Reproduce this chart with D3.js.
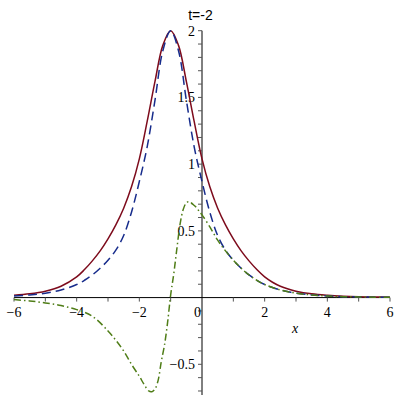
<!DOCTYPE html>
<html><head><meta charset="utf-8">
<script src="https://cdn.jsdelivr.net/npm/d3@7"></script>
<style>html,body{margin:0;padding:0;background:#fff;}svg{display:block;}</style>
</head><body>
<script>
// ---- data ----
const title = "t=-2";
const xs = [-6,-5.5,-5,-4.5,-4,-3.75,-3.5,-3.25,-3,-2.75,-2.5,-2.25,-2,-1.75,-1.5,-1.25,-1,-0.75,-0.5,-0.25,0,0.25,0.5,0.75,1,1.25,1.5,1.75,2,2.25,2.5,2.75,3,3.5,4,4.5,5,5.5,6];
const redY = [0.017,0.028,0.048,0.085,0.155,0.21,0.275,0.35,0.44,0.545,0.67,0.83,1.04,1.32,1.62,1.89,2.00,1.89,1.62,1.32,1.04,0.83,0.67,0.545,0.44,0.35,0.275,0.21,0.155,0.115,0.085,0.064,0.048,0.028,0.017,0.01,0.006,0.004,0.003];
const blueY = [0.012,0.02,0.033,0.057,0.098,0.13,0.17,0.22,0.28,0.355,0.465,0.64,0.87,1.13,1.48,1.85,2.00,1.85,1.48,1.13,0.87,0.64,0.465,0.355,0.28,0.22,0.17,0.13,0.098,0.075,0.057,0.044,0.033,0.02,0.012,0.007,0.005,0.003,0.002];
const greenX = [-6,-5.5,-5,-4.5,-4,-3.5,-3,-2.75,-2.5,-2.25,-2,-1.85,-1.7,-1.6,-1.5,-1.4,-1.3,-1.2,-1.1,-1,-0.9,-0.8,-0.7,-0.6,-0.5,-0.4,-0.3,-0.2,-0.1,0,0.25,0.5,0.75,1,1.25,1.5,1.75,2,2.5,3,3.5,4,4.5,5,5.5,6];
const greenY = [-0.015,-0.025,-0.04,-0.06,-0.09,-0.14,-0.25,-0.32,-0.40,-0.50,-0.59,-0.65,-0.70,-0.705,-0.685,-0.62,-0.48,-0.36,-0.19,0.02,0.18,0.37,0.55,0.66,0.71,0.72,0.70,0.68,0.65,0.62,0.53,0.43,0.35,0.28,0.22,0.17,0.13,0.098,0.057,0.033,0.02,0.012,0.007,0.005,0.003,0.002];
const xMajor = [-6,-4,-2,0,2,4,6];
const xMinor = [-6,-5,-4,-3,-2,-1,1,2,3,4,5,6];
const yMajor = [-0.5,0.5,1,1.5,2];
const yMinorStep = 0.1;

// ---- drawing ----
const W = 400, H = 400;
const svg = d3.select("body").append("svg").attr("width", W).attr("height", H);
const x = d3.scaleLinear().domain([-6, 6]).range([14, 390]);
const y = d3.scaleLinear().domain([-0.73, 2]).range([395, 30.7]);

const g = svg.append("g");

// axes lines
g.append("line").attr("x1", x(-6)).attr("x2", x(6)).attr("y1", y(0)).attr("y2", y(0))
  .attr("stroke", "#000").attr("stroke-width", 1);
g.append("line").attr("x1", x(0)).attr("x2", x(0)).attr("y1", y(2)).attr("y2", y(-0.73))
  .attr("stroke", "#000").attr("stroke-width", 1);

// x ticks (below axis)
g.selectAll(".xt").data(xMinor).enter().append("line")
  .attr("x1", d => x(d)).attr("x2", d => x(d))
  .attr("y1", y(0)).attr("y2", y(0) + 4)
  .attr("stroke", "#555").attr("stroke-width", 1);
// y ticks (left of axis)
const yTicks = d3.range(-7, 21).map(i => i * yMinorStep).filter(v => Math.abs(v) > 1e-9);
g.selectAll(".yt").data(yTicks).enter().append("line")
  .attr("x1", x(0) - 4).attr("x2", x(0))
  .attr("y1", d => y(d)).attr("y2", d => y(d))
  .attr("stroke", "#555").attr("stroke-width", 1);

const fmt = v => (v < 0 ? "\u2212" : "") + Math.abs(v);
// x labels
g.selectAll(".xl").data(xMajor).enter().append("text")
  .attr("x", d => d === 0 ? x(0) - 4.5 : x(d))
  .attr("y", 317)
  .attr("text-anchor", "middle")
  .attr("font-family", "Liberation Serif, Times New Roman, serif")
  .attr("font-size", 14).text(fmt);
// y labels
g.selectAll(".yl").data(yMajor).enter().append("text")
  .attr("x", 195).attr("y", d => y(d) + 5)
  .attr("text-anchor", "end")
  .attr("font-family", "Liberation Serif, Times New Roman, serif")
  .attr("font-size", 14).text(fmt);

// axis label
g.append("text").attr("x", 295).attr("y", 333).attr("text-anchor", "middle")
  .attr("font-family", "Liberation Serif, Times New Roman, serif")
  .attr("font-style", "italic").attr("font-size", 14).text("x");

// title
g.append("text").attr("x", 200.5).attr("y", 20).attr("text-anchor", "middle")
  .attr("font-family", "Liberation Sans, Arial, sans-serif")
  .attr("font-size", 14).text(title);

// curves
const line = d3.line().x(d => x(d[0])).y(d => y(d[1])).curve(d3.curveCatmullRom.alpha(0.5));
g.append("path").datum(xs.map((v, i) => [v, redY[i]]))
  .attr("d", line).attr("fill", "none").attr("stroke", "#7d0b1c").attr("stroke-width", 1.5);
g.append("path").datum(xs.map((v, i) => [v, blueY[i]]))
  .attr("d", line).attr("fill", "none").attr("stroke", "#172c8c").attr("stroke-width", 1.5)
  .attr("stroke-dasharray", "9,5");
g.append("path").datum(greenX.map((v, i) => [v, greenY[i]]))
  .attr("d", line).attr("fill", "none").attr("stroke", "#4f7d17").attr("stroke-width", 1.5)
  .attr("stroke-dasharray", "7,3,1.5,3");
</script>
</body></html>
